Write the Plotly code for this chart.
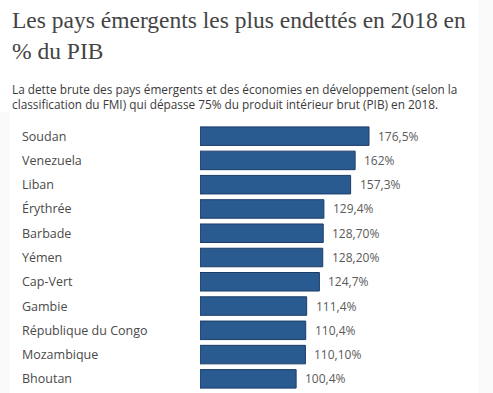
import plotly.graph_objects as go

countries = ["Soudan", "Venezuela", "Liban", "Érythrée", "Barbade", "Yémen",
             "Cap-Vert", "Gambie", "République du Congo", "Mozambique", "Bhoutan"]
values = [176.5, 162, 157.3, 129.4, 128.7, 128.2, 124.7, 111.4, 110.4, 110.1, 100.4]
value_labels = ["176,5%", "162%", "157,3%", "129,4%", "128,70%", "128,20%",
                "124,7%", "111,4%", "110,4%", "110,10%", "100,4%"]

title_lines = ["Les pays émergents les plus endettés en 2018 en", "% du PIB"]
subtitle_lines = ["La dette brute des pays émergents et des économies en développement (selon la",
                  "classification du FMI) qui dépasse 75% du produit intérieur brut (PIB) en 2018."]

W, H = 493, 393
ML, MR, MT, MB = 200, 0, 124, 2
PW = W - ML - MR
PH = H - MT - MB

def px_x(x):
    return (x - ML) / PW

def px_y(y):
    return (H - MB - y) / PH

fig = go.Figure()
fig.add_trace(go.Bar(
    x=values, y=countries, orientation="h",
    marker=dict(color="#2a5b90", line=dict(color="#1b3c69", width=1)),
    hoverinfo="skip",
))

ann = []
for c in countries:
    ann.append(dict(x=px_x(20), xref="paper", y=c, yref="y", text=c, showarrow=False,
                    xanchor="left", yanchor="middle",
                    font=dict(family="Open Sans", size=12.5, color="#4a4a4a")))
for v, c, t in zip(values, countries, value_labels):
    ann.append(dict(x=v, xref="x", y=c, yref="y", text=t, showarrow=False,
                    xanchor="left", yanchor="middle", xshift=7,
                    font=dict(family="Open Sans", size=12, color="#5a5a5a")))
for line, yc in zip(title_lines, [20, 51]):
    ann.append(dict(x=px_x(10), xref="paper", y=px_y(yc), yref="paper", text=line,
                    showarrow=False, xanchor="left", yanchor="middle",
                    font=dict(family="Liberation Serif", size=23.5, color="#444444")))
for line, yc in zip(subtitle_lines, [88.5, 104]):
    ann.append(dict(x=px_x(10), xref="paper", y=px_y(yc), yref="paper", text=line,
                    showarrow=False, xanchor="left", yanchor="middle",
                    font=dict(family="Open Sans", size=11.8, color="#3a3a3a")))

shapes = [
    dict(type="rect", xref="paper", yref="paper", x0=px_x(478), x1=px_x(493),
         y0=px_y(393), y1=px_y(0), fillcolor="#fafafa", line=dict(width=0), layer="below"),
    dict(type="rect", xref="paper", yref="paper", x0=px_x(0), x1=px_x(10),
         y0=px_y(393), y1=px_y(112), fillcolor="#fafafa", line=dict(width=0), layer="below"),
]

fig.update_layout(
    width=W, height=H,
    margin=dict(l=ML, r=MR, t=MT, b=MB),
    paper_bgcolor="white", plot_bgcolor="rgba(0,0,0,0)",
    showlegend=False, bargap=0.237,
    xaxis=dict(range=[0, PW / 0.9575], visible=False, fixedrange=True),
    yaxis=dict(autorange="reversed", visible=False, fixedrange=True),
    annotations=ann, shapes=shapes,
)

fig.write_html("out.html", config={"displayModeBar": False},
               post_script="document.body.style.margin='0';document.body.style.overflow='hidden';")
